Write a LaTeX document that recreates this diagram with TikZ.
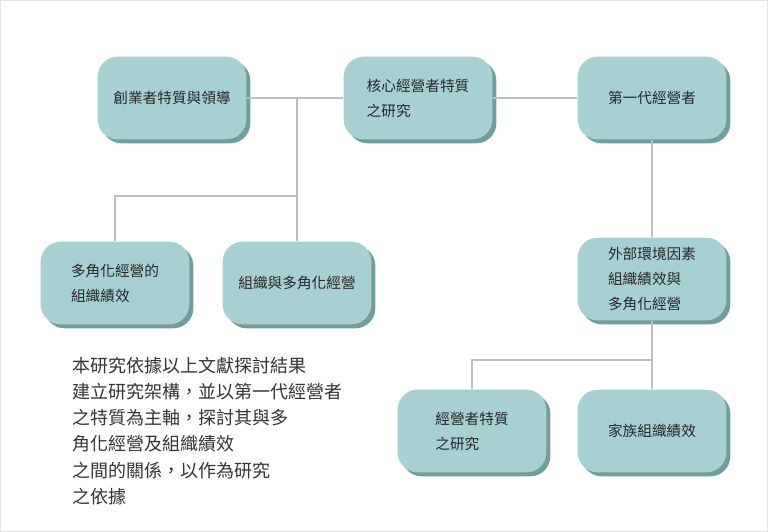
\documentclass[tikz,border=0pt]{standalone}
\usepackage{fontspec}
\newfontfamily\cjk{Noto Sans CJK TC}
\usetikzlibrary{shadows}
\usetikzlibrary{positioning}
\definecolor{boxteal}{RGB}{168,208,211}
\definecolor{shadeteal}{RGB}{112,158,156}
\definecolor{lineg}{RGB}{190,190,190}
\definecolor{frameg}{RGB}{228,228,228}
\tikzset{
    boxnode/.style = {rectangle, rounded corners=15pt, fill=boxteal, draw=none,
        minimum width=111.5pt, minimum height=62pt, align=left,
        font=\cjk\fontsize{11}{18.75}\selectfont, text=black!85,
        drop shadow={shadow xshift=3pt, shadow yshift=-3pt, fill=shadeteal, opacity=1}},
    edgeg/.style = {-, line width=1.1pt, lineg},
    frameline/.style = {line width=0.75pt, frameg}
}

\begin{document}
\begin{tikzpicture}[x=0.75pt,y=-0.75pt]
  \useasboundingbox (0,0) rectangle (768,532);
  \draw[frameline] (0.5,0.5) rectangle (767.5,531.5);

  % top row
  \node[boxnode] (a) at (172,98) {創業者特質與領導};
  \node[boxnode] (b) at (418,98) {核心經營者特質\\之研究};
  \node[boxnode] (c) at (652,98) {第一代經營者};
  % left branch
  \node[boxnode] (d) at (115,283) {多角化經營的\\組織績效};
  \node[boxnode] (e) at (297,283) {組織與多角化經營};
  % right branch
  \node[boxnode] (f) at (652,279) {外部環境因素\\組織績效與\\多角化經營};
  \node[boxnode] (g) at (472,431) {經營者特質\\之研究};
  \node[boxnode] (h) at (652,431) {家族組織績效};

  \coordinate (j1) at (297,98);
  \coordinate (j2) at (297,196);
  \coordinate (j3) at (652,360);

  \draw[edgeg] (a) -- (b);
  \draw[edgeg] (b) -- (c);
  \draw[edgeg] (j1) -- (j2) -| (d);
  \draw[edgeg] (j2) -- (e);
  \draw[edgeg] (c) -- (f);
  \draw[edgeg] (f) -- (j3) -| (g);
  \draw[edgeg] (j3) -- (h);

  \node[anchor=north west, align=left, inner sep=0pt,
        font=\cjk\fontsize{13.5}{19.6}\selectfont, text=black!80] (txt) at (72,357)
    {本研究依據以上文獻探討結果\\建立研究架構，並以第一代經營者\\之特質為主軸，探討其與多\\角化經營及組織績效\\之間的關係，以作為研究\\之依據};
\end{tikzpicture}
\end{document}
